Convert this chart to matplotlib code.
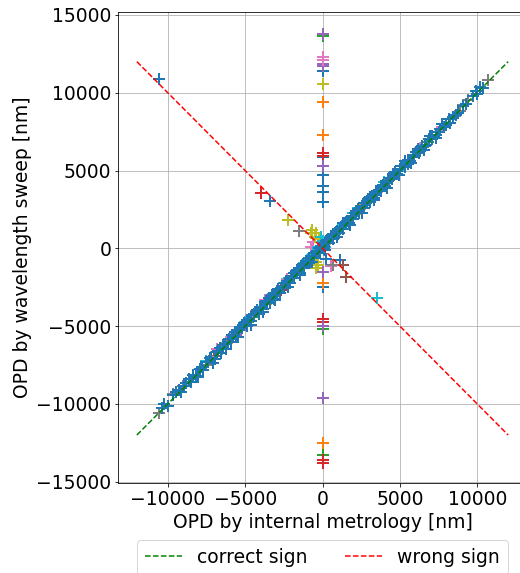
import numpy as np
import matplotlib
matplotlib.use("Agg")
import matplotlib.pyplot as plt

# OPD pairs (internal metrology, wavelength sweep) in nm, one pair of lists per run
run1_x = [0, 0, 0, 0, 0, 0, 0, -10537, -3417, 1150, 250]
run1_y = [11394, 5848, 4711, 4004, 3599, 2956, -2506, 10861, 3059, -730, -700]

run2_x = [0, 0, 0, 0, -6200, -1200, 2450, 5600, -3300]
run2_y = [9383, 7300, -2230, -12532, -6100, -1100, 2550, 5700, -3250]

run3_x = [0, 0, 0, -4500, 1500, 6800]
run3_y = [13640, -5206, -13284, -4400, 1550, 6850]

run4_x = [0, 0, 0, 0, 0, 0, -4000, -2700, 3900]
run4_y = [6105, 5951, -4563, -4736, -13605, -13818, 3573, -2650, 4000]

run5_x = [0, 0, 0, 0, 0, 0, 0, -5300, 2000, 7400]
run5_y = [13753, 11844, 11735, 5309, -1530, -4994, -9600, -5250, 2100, 7450]

run6_x = [1327, 1502, -7000, 4300]
run6_y = [-1073, -1825, -6900, 4400]

run7_x = [0, 0, -720, 576, -600, -5900, -4600, -7200, 3500, 7693, 6300, -1500,
          -6800, -3700, -2300]
run7_y = [12275, 12100, 100, -1140, 400, -5700, -4350, -7000, 3650, 7815, 6450, -1300,
          -6450, -3350, -1950]

run8_x = [-1500, 680, 10673, 9417, 9094, -10583, -9676, -9029, -7514, 8900]
run8_y = [1090, -1050, 10816, 9531, 9209, -10566, -9383, -8850, -7500, 8800]

run9_x = [0, -2230, -720, -505, -650, -400, -395, -291, -450, -200,
          -300, -800, 500, -3900]
run9_y = [10540, 1850, 964, 745, 1150, 1000, -1285, -1073, -900, 600,
          -250, -650, 600, -3800]

run10_x = [3500, 0, 100, -4000, -2000, 300, -200, 3000, 5200, -6500, 150,
           -2500, -1500, -1000, -600, -3200, -5000, -7500, 1000, 2000, 4000,
           -300, 0, -100]
run10_y = [-3213, 300, -100, -3850, -1900, 400, -100, 3100, 5300, -6450, 100,
           -2250, -1250, -750, -350, -2950, -4750, -7250, 1250, 2250, 4250,
           100, 450, 700]

# last run, almost all on the correct-sign diagonal
run11_x = [-10380, -10214, -9980, -9457, -9120, -8800, -8530, -8207, -7950, -7700,
           -7420, -7210, -6980, -6760, -6540, -6330, -6120, -5930, -5760, -5580,
           -5410, -5230, -5146, -4900, -4740, -4590, -4430, -4280, -4130, -3990,
           -3850, -3700, -3560, -3420, -3290, -3150, -3010, -2880, -2740, -2610,
           -2480, -2350, -2220, -2090, -1960, -1830, -1700, -1570, -1450, -1320,
           -1190, -1060, -940, -810, -690, -560, -430, -310, -180, -60,
           70, 190, 320, 440, 570, 700, 820, 950, 1080, 1210,
           1340, 1470, 1600, 1730, 1860, 1990, 2130, 2260, 2390, 2530,
           2660, 2800, 2940, 3070, 3210, 3350, 3490, 3630, 3780, 3920,
           4070, 4220, 4370, 4520, 4680, 4840, 5000, 5160, 5330, 5500,
           5680, 5860, 6050, 6240, 6440, 6650, 6870, 7100, 7350, 7603,
           7860, 8150, 8458, 8780, 9100, 9700, 10000, 10175, 10350,
           -8650, -8050, -7550, -7100, -6650, -6250, -5850, -5450, -5050, -4650,
           -4250, -3850, -3450, -3050, -2650, -2250, -1850, -1450, -1050, -650,
           -250, 150, 550, 950, 1350, 1750, 2150, 2550, 2950, 3350,
           3750, 4150, 4550, 4950, 5350, 5750, 6150, 6550, 6950, 7350,
           7750, 8250,
           -9650, -9300, -8950, -8400, -7800, -7300, -6850, -6450, -6050, -5650,
           -5300, -4850, -4450, -4050, -3650, -3250, -2850, -2450, -2050, -1650,
           -1250, -850, -450, -100, 300, 700, 1100, 1500, 1900, 2300,
           2700, 3100, 3500, 3900, 4300, 4700, 5100, 5500, 5900, 6300,
           6700, 7050, 7500, 8000, 8600, 9300, 9900]
run11_y = [-10290, -10006, -10110, -9216, -9260, -8650, -8610, -8207, -7780, -7850,
           -7300, -7020, -7090, -6600, -6700, -6180, -6010, -6050, -5560, -5700,
           -5250, -5120, -4929, -4980, -4560, -4700, -4300, -4120, -4250, -3800,
           -3930, -3560, -3440, -3530, -3100, -3240, -2880, -2730, -2860, -2430,
           -2570, -2210, -2080, -2200, -1790, -1920, -1570, -1420, -1560, -1150,
           -1280, -930, -800, -910, -520, -650, -300, -170, -280, 110,
           -20, 320, 460, 350, 740, 610, 950, 1090, 990, 1380,
           1250, 1600, 1740, 1640, 2030, 1900, 2260, 2400, 2300, 2700,
           2570, 2930, 3080, 2980, 3380, 3260, 3620, 3770, 3690, 4090,
           3980, 4350, 4510, 4430, 4850, 4750, 5130, 5300, 5240, 5670,
           5590, 5990, 6190, 6150, 6610, 6560, 7000, 7240, 7260, 7700,
           7800, 8290, 8458, 8700, 9180, 9800, 9950, 10386, 10300,
           -8380, -8300, -7280, -7380, -6380, -6500, -5580, -5700, -4780, -4900,
           -3980, -4100, -3200, -3300, -2400, -2500, -1600, -1700, -800, -900,
           0, -100, 800, 700, 1600, 1500, 2400, 2300, 3200, 3100,
           4000, 3900, 4800, 4700, 5600, 5500, 6400, 6300, 7200, 7100,
           8000, 8050,
           -9450, -9100, -8850, -8150, -7600, -7050, -6650, -6200, -5800, -5400,
           -5050, -4600, -4250, -3800, -3400, -3000, -2600, -2200, -1800, -1400,
           -1000, -600, -250, 150, 550, 900, 1300, 1700, 2100, 2500,
           2900, 3300, 3700, 4100, 4500, 4900, 5300, 5450, 5850, 6250,
           6650, 7000, 7450, 7950, 8550, 9250, 10100]

runs = [(run1_x, run1_y), (run2_x, run2_y), (run3_x, run3_y), (run4_x, run4_y),
        (run5_x, run5_y), (run6_x, run6_y), (run7_x, run7_y), (run8_x, run8_y),
        (run9_x, run9_y), (run10_x, run10_y), (run11_x, run11_y)]

ref_line = [-12000, 12000]

plt.rcParams["font.size"] = 18.7

fig = plt.figure(figsize=(520 / 72, 573 / 72), dpi=72)
ax = fig.add_axes([0.2275, 0.1576, 0.7854, 0.8206])

for x, y in runs:
    ax.plot(x, y, "+", markersize=12.5, markeredgewidth=2)

ax.plot(ref_line, ref_line, "g--", label="correct sign")
ax.plot(ref_line, [-v for v in ref_line], "r--", label="wrong sign")

ax.set_xlim(-13200, 13200)
ax.set_ylim(-15064, 15160)
ax.set_xticks([-10000, -5000, 0, 5000, 10000])
ax.set_yticks([-15000, -10000, -5000, 0, 5000, 10000, 15000])
ax.grid(True)
ax.set_xlabel("OPD by internal metrology [nm]")
ax.set_ylabel("OPD by wavelength sweep [nm]")
ax.legend(loc="upper center", bbox_to_anchor=(0.5, -0.103), ncol=2)

fig.savefig("out.png", dpi=72)
